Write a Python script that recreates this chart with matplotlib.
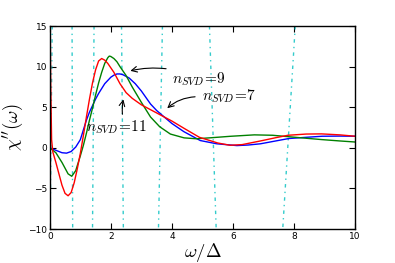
import numpy as np
import matplotlib
matplotlib.use("Agg")
import matplotlib.pyplot as plt

plt.rcParams['mathtext.fontset'] = 'cm'

# chi'', one list per n_SVD
x_blue = [0.0, 0.2, 0.4, 0.55, 0.7, 0.85, 1.0, 1.1, 1.2, 1.3, 1.4, 1.5, 1.6, 1.8, 2.0, 2.1, 2.2, 2.3,
          2.4, 2.6, 2.8, 3.0, 3.3, 3.5, 3.78, 4.0, 4.39, 4.93, 5.47, 6.13, 6.5, 6.9, 7.4, 7.83, 8.4,
          8.92, 9.5, 10.0]
y_blue = [0.0, -0.3, -0.6, -0.65, -0.45, 0.1, 1.0, 2.2, 3.4, 4.4, 5.2, 6.0, 6.7, 7.9, 8.7, 8.95, 9.1, 9.1,
          9.0, 8.6, 7.9, 7.0, 5.4, 4.6, 3.7, 3.0, 2.0, 0.9, 0.5, 0.28, 0.35, 0.5, 0.85, 1.15, 1.3,
          1.43, 1.45, 1.43]

x_green = [0.0, 0.2, 0.4, 0.6, 0.72, 0.85, 1.0, 1.1, 1.2, 1.3, 1.4, 1.5, 1.6, 1.7, 1.8, 1.9, 1.95, 2.0,
           2.1, 2.2, 2.3, 2.5, 2.7, 3.0, 3.3, 3.6, 3.95, 4.4, 4.8, 5.3, 5.9, 6.7, 7.3, 7.8, 8.5, 8.9,
           9.5, 10.0]
y_green = [0.0, -0.6, -1.8, -3.2, -3.5, -2.8, -1.0, 0.3, 1.8, 3.4, 4.9, 6.5, 8.0, 9.3, 10.4, 11.1, 11.3, 11.25,
           11.0, 10.6, 10.0, 8.9, 7.5, 5.6, 3.8, 2.6, 1.7, 1.23, 1.12, 1.25, 1.42, 1.6, 1.55, 1.38, 1.15, 1.02,
           0.85, 0.72]

x_red = [0.005, 0.03, 0.06, 0.1, 0.2, 0.3, 0.4, 0.5, 0.6, 0.7, 0.8, 0.9, 1.0, 1.1, 1.2, 1.3, 1.4, 1.5,
         1.6, 1.7, 1.8, 1.9, 2.1, 2.3, 2.5, 2.7, 3.0, 3.3, 3.6, 3.8, 4.0, 4.4, 4.9, 5.5, 5.9, 6.3,
         6.9, 7.4, 7.8, 8.4, 8.9, 9.5, 10.0]
y_red = [20.0, 8.0, 1.0, -0.5, -1.8, -3.2, -4.6, -5.6, -5.9, -5.5, -4.3, -2.6, -0.7, 1.5, 3.8, 6.0, 8.0, 9.6,
         10.7, 11.0, 10.8, 10.4, 9.3, 7.9, 6.8, 6.1, 5.3, 4.7, 4.1, 3.7, 3.3, 2.4, 1.3, 0.6, 0.32, 0.4,
         0.85, 1.25, 1.55, 1.7, 1.72, 1.6, 1.43]

# cyan guide lines: x at top (15) and at bottom (-10)
guide_top = [0.08, 0.73, 1.45, 2.35, 3.69, 5.23, 8.04]
guide_bot = [0.01, 0.75, 1.40, 2.41, 3.56, 5.45, 7.63]

fig = plt.figure(figsize=(3.95, 2.63), dpi=100)
ax = fig.add_axes([0.126, 0.129, 0.773, 0.772])

for xt, xb in zip(guide_top, guide_bot):
    ax.plot([xt, xb], [15, -10], color='c', lw=1, alpha=0.8, dashes=[2.5, 3, 1, 3])

ax.plot(x_blue, y_blue, color='b', lw=1)
ax.plot(x_green, y_green, color='g', lw=1)
ax.plot(x_red, y_red, color='r', lw=1)

ax.set_xlim(0, 10)
ax.set_ylim(-10, 15)
ax.set_xticks([0, 2, 4, 6, 8, 10])
ax.set_yticks([-10, -5, 0, 5, 10, 15])
ax.tick_params(direction='in', top=True, right=True, labelsize=6.5, length=4, width=0.8, pad=2)
for s in ax.spines.values():
    s.set_linewidth(1)

ax.set_xlabel(r'$\omega/\Delta$', fontsize=13.5, labelpad=0)
ax.set_ylabel(r"$\chi''(\omega)$", fontsize=13.5, labelpad=2)

aprops = dict(arrowstyle='->', color='k', lw=0.8)
ax.annotate('', xy=(2.55, 9.4), xytext=(3.9, 9.7),
            arrowprops=dict(aprops, connectionstyle='arc3,rad=0.1'))
ax.text(4.0, 8.4, r'$n_{SVD}\!=\!9$', fontsize=11, ha='left', va='center')

ax.annotate('', xy=(3.78, 4.65), xytext=(4.85, 6.3),
            arrowprops=dict(aprops, connectionstyle='arc3,rad=0.2'))
ax.text(4.97, 6.3, r'$n_{SVD}\!=\!7$', fontsize=11, ha='left', va='center')

ax.annotate('', xy=(2.43, 6.3), xytext=(2.39, 3.8),
            arrowprops=dict(aprops, connectionstyle='arc3,rad=-0.1'))
ax.text(1.2, 2.6, r'$n_{SVD}\!=\!11$', fontsize=11, ha='left', va='center')

fig.savefig('out.png', dpi=100)
